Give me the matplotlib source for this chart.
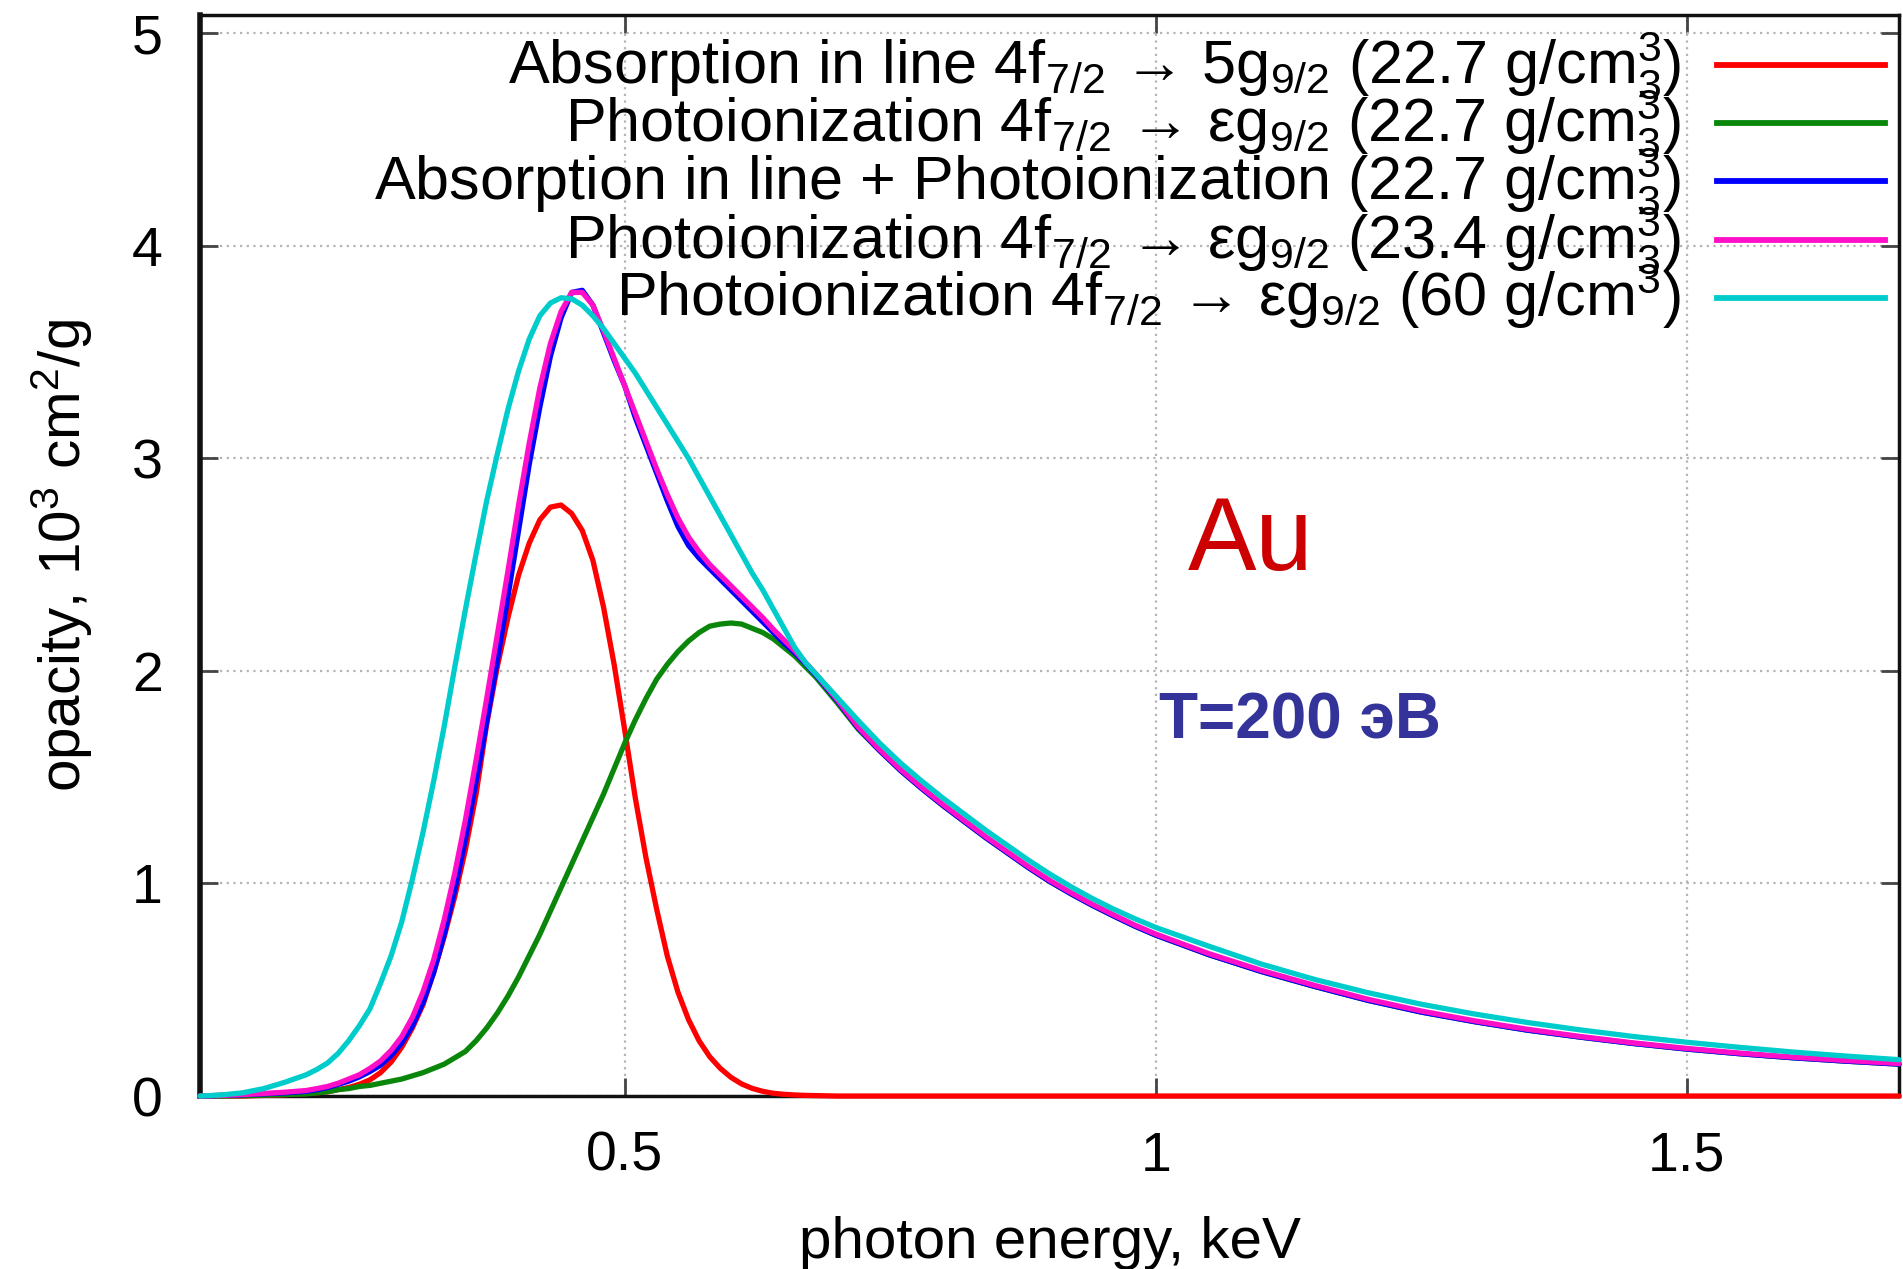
import matplotlib.pyplot as plt
import matplotlib as mpl

mpl.rcParams['font.family'] = ['Liberation Sans', 'DejaVu Sans']
mpl.rcParams['mathtext.fontset'] = 'custom'
mpl.rcParams['mathtext.rm'] = 'Liberation Sans'
mpl.rcParams['mathtext.it'] = 'Liberation Sans:italic'
mpl.rcParams['mathtext.bf'] = 'Liberation Sans:bold'
mpl.rcParams['mathtext.default'] = 'regular'

# photon energy grid, keV
energy = [0.10, 0.12, 0.14, 0.16, 0.18, 0.20,
          0.21, 0.22, 0.23, 0.24, 0.25, 0.26, 0.27, 0.28, 0.29, 0.30,
          0.31, 0.32, 0.33, 0.34, 0.35, 0.36, 0.37, 0.38, 0.39, 0.40,
          0.41, 0.42, 0.43, 0.44, 0.45, 0.46, 0.47, 0.48, 0.49, 0.50,
          0.51, 0.52, 0.53, 0.54, 0.55, 0.56, 0.57, 0.58, 0.59, 0.60,
          0.61, 0.62, 0.63, 0.64, 0.65, 0.66, 0.67, 0.68, 0.69, 0.70,
          0.72, 0.74, 0.76, 0.78, 0.80, 0.82, 0.84, 0.86, 0.88, 0.90,
          0.92, 0.94, 0.96, 0.98, 1.00,
          1.05, 1.10, 1.15, 1.20, 1.25, 1.30, 1.35, 1.40, 1.45, 1.50,
          1.55, 1.60, 1.65, 1.70]

# opacity, 10^3 cm^2/g
line_abs = [0.0, 0.0, 0.0, 0.003, 0.006, 0.012,
            0.015, 0.02, 0.03, 0.04, 0.055, 0.076, 0.11, 0.16, 0.23, 0.32,
            0.43, 0.58, 0.75, 0.94, 1.16, 1.42, 1.75, 2.02, 2.25, 2.45,
            2.60, 2.71, 2.77, 2.78, 2.74, 2.66, 2.52, 2.30, 2.03, 1.72,
            1.40, 1.12, 0.88, 0.66, 0.49, 0.36, 0.26, 0.185, 0.13, 0.088,
            0.057, 0.036, 0.022, 0.013, 0.008, 0.005, 0.003, 0.002, 0.001, 0.0,
            0.0, 0.0, 0.0, 0.0, 0.0, 0.0, 0.0, 0.0, 0.0, 0.0,
            0.0, 0.0, 0.0, 0.0, 0.0,
            0.0, 0.0, 0.0, 0.0, 0.0, 0.0, 0.0, 0.0, 0.0, 0.0,
            0.0, 0.0, 0.0, 0.0]

photo_227 = [0.0, 0.0, 0.002, 0.004, 0.007, 0.01,
             0.015, 0.02, 0.03, 0.035, 0.045, 0.05, 0.06, 0.07, 0.08, 0.095,
             0.11, 0.13, 0.15, 0.18, 0.21, 0.26, 0.32, 0.39, 0.47, 0.56,
             0.66, 0.76, 0.87, 0.98, 1.09, 1.20, 1.31, 1.42, 1.54, 1.66,
             1.77, 1.87, 1.96, 2.03, 2.09, 2.14, 2.18, 2.21, 2.22, 2.225,
             2.22, 2.20, 2.18, 2.15, 2.11, 2.07, 2.02, 1.97, 1.91, 1.85,
             1.725, 1.625, 1.53, 1.445, 1.365, 1.29, 1.215, 1.145, 1.075, 1.01,
             0.952, 0.898, 0.848, 0.80, 0.757,
             0.665, 0.585, 0.515, 0.45, 0.395, 0.35, 0.31, 0.277, 0.247, 0.221,
             0.199, 0.18, 0.164, 0.15]

total_227 = [0.0, 0.003, 0.006, 0.01, 0.015, 0.022,
             0.03, 0.04, 0.055, 0.07, 0.09, 0.115, 0.145, 0.19, 0.25, 0.33,
             0.44, 0.58, 0.76, 0.97, 1.21, 1.48, 1.76, 2.05, 2.35, 2.66,
             2.97, 3.24, 3.48, 3.66, 3.78, 3.79, 3.72, 3.59, 3.46, 3.34,
             3.19, 3.06, 2.93, 2.80, 2.68, 2.59, 2.53, 2.48, 2.43, 2.38,
             2.33, 2.28, 2.23, 2.18, 2.13, 2.085, 2.035, 1.98, 1.92, 1.86,
             1.73, 1.625, 1.53, 1.445, 1.365, 1.29, 1.215, 1.145, 1.075, 1.01,
             0.952, 0.898, 0.848, 0.80, 0.757,
             0.665, 0.585, 0.515, 0.45, 0.395, 0.35, 0.31, 0.277, 0.247, 0.221,
             0.199, 0.18, 0.164, 0.15]

photo_234 = [0.0, 0.003, 0.007, 0.012, 0.018, 0.026,
             0.035, 0.045, 0.06, 0.08, 0.10, 0.13, 0.165, 0.215, 0.28, 0.37,
             0.49, 0.64, 0.83, 1.05, 1.30, 1.58, 1.87, 2.17, 2.47, 2.78,
             3.07, 3.33, 3.54, 3.69, 3.78, 3.78, 3.72, 3.60, 3.47, 3.34,
             3.21, 3.08, 2.95, 2.83, 2.72, 2.63, 2.56, 2.50, 2.45, 2.40,
             2.35, 2.30, 2.25, 2.195, 2.145, 2.095, 2.04, 1.985, 1.925, 1.865,
             1.735, 1.63, 1.535, 1.45, 1.37, 1.295, 1.22, 1.15, 1.08, 1.015,
             0.957, 0.903, 0.853, 0.805, 0.762,
             0.67, 0.59, 0.52, 0.455, 0.40, 0.354, 0.314, 0.28, 0.25, 0.224,
             0.202, 0.183, 0.167, 0.153]

photo_60 = [0.0, 0.005, 0.015, 0.035, 0.065, 0.10,
            0.125, 0.155, 0.20, 0.26, 0.33, 0.41, 0.53, 0.66, 0.82, 1.02,
            1.24, 1.48, 1.74, 2.02, 2.29, 2.55, 2.80, 3.02, 3.23, 3.41,
            3.56, 3.67, 3.73, 3.755, 3.75, 3.72, 3.67, 3.61, 3.54, 3.47,
            3.40, 3.32, 3.24, 3.16, 3.08, 3.00, 2.91, 2.82, 2.73, 2.64,
            2.55, 2.46, 2.38, 2.29, 2.20, 2.11, 2.04, 1.985, 1.93, 1.875,
            1.765, 1.66, 1.565, 1.48, 1.40, 1.325, 1.25, 1.18, 1.11, 1.045,
            0.985, 0.93, 0.88, 0.835, 0.793,
            0.705, 0.62, 0.548, 0.486, 0.432, 0.386, 0.346, 0.311, 0.28, 0.253,
            0.229, 0.207, 0.188, 0.171]

series = [line_abs, photo_227, total_227, photo_234, photo_60]
colors = ['#ff0000', '#0a870a', '#0000ff', '#ff10c8', '#00cccc']
labels = [
    r'Absorption in line 4f$_{7/2}$ → 5g$_{9/2}$ (22.7 g/$cm^{3}_{3}$)',
    r'Photoionization 4f$_{7/2}$ → εg$_{9/2}$ (22.7 g/$cm^{3}_{3}$)',
    r'Absorption in line + Photoionization (22.7 g/$cm^{3}_{3}$)',
    r'Photoionization 4f$_{7/2}$ → εg$_{9/2}$ (23.4 g/$cm^{3}_{3}$)',
    r'Photoionization 4f$_{7/2}$ → εg$_{9/2}$ (60 g/$cm^{3}$)',
]

xticks = [0.5, 1.0, 1.5]
xticklabels = ['0.5', '1', '1.5']
yticks = [0, 1, 2, 3, 4, 5]

fig = plt.figure(figsize=(19.03, 12.69), dpi=100)
ax = fig.add_axes([0.1051, 0.1363, 0.8928, 0.8519])

for vals, c in zip(series, colors):
    ax.plot(energy, vals, color=c, lw=3.8, solid_joinstyle='round',
            solid_capstyle='round', clip_on=False, zorder=3)

ax.set_xlim(0.1, 1.7)
ax.set_ylim(0, 5.085)
ax.set_xticks(xticks)
ax.set_xticklabels(xticklabels)
ax.set_yticks(yticks)

ax.grid(True, color='#b4b4b4', linestyle=(0, (1, 2)), linewidth=1.6, zorder=0)
for t in ax.yaxis.get_major_ticks():
    if t.get_loc() == 4:
        t.gridline.set_visible(False)

ax.tick_params(direction='in', length=13, width=2, top=True, right=True,
               labelsize=40, color='#444444')
ax.tick_params(axis='x', pad=25)
ax.tick_params(axis='y', pad=27)
for s in ax.spines.values():
    s.set_linewidth(2.5)
    s.set_color('#111111')
ax.spines['left'].set_linewidth(4)

ax.set_xlabel('photon energy, keV', fontsize=42)
ax.xaxis.set_label_coords(0.5, -0.111)
ax.set_ylabel(r'opacity, 10$^{3}$ cm$^{2}$/g', fontsize=42)
ax.yaxis.set_label_coords(-0.062, 0.5)

# key, gnuplot style: text right-aligned, sample line on the right
ax_h = 1081.0
for i, (lab, c) in enumerate(zip(labels, colors)):
    y_line = 1.0 - (65 - 15 + i * 58.25) / ax_h
    y_text = y_line - 18 / ax_h
    ax.plot([0.8929, 0.9918], [y_line, y_line], color=c, lw=4.2,
            transform=ax.transAxes, clip_on=False, zorder=4)
    ax.text(0.8717, y_text, lab, transform=ax.transAxes, ha='right',
            va='baseline', fontsize=44, zorder=4)

ax.text(1.03, 2.474, 'Au', color='#cc0000', fontsize=74, ha='left', va='baseline')
ax.text(1.003, 1.683, 'T=200 эВ', color='#333399', fontsize=46,
        fontweight='bold', ha='left', va='baseline')

fig.savefig('out.png', dpi=100)
